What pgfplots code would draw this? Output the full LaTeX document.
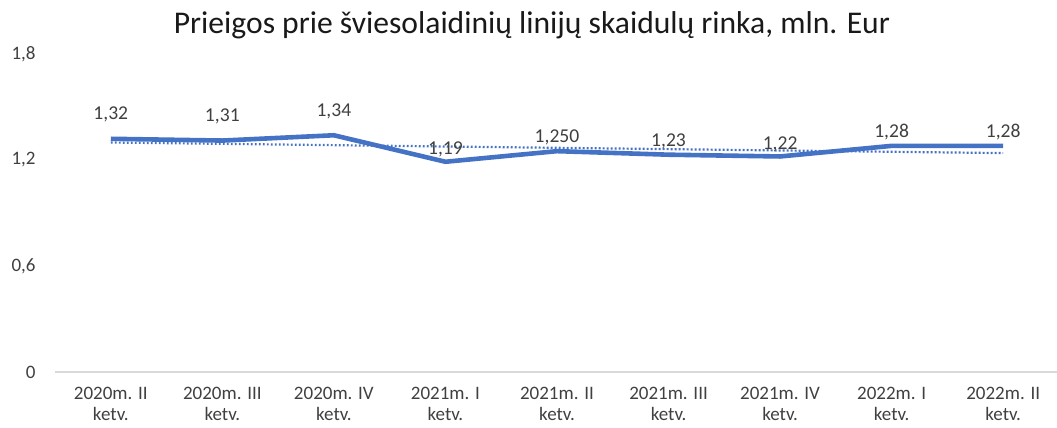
\documentclass[border=0pt]{standalone}
\usepackage{fontspec}
\setmainfont{Carlito}
\usepackage{pgfplots}
\usepackage{pgfplotstable}
\pgfplotsset{compat=1.18}
\definecolor{lineblue}{HTML}{4472C4}
\definecolor{txt}{HTML}{404040}
\definecolor{axgray}{HTML}{D9D9D9}
\pgfplotstableread{
x y lab dy
0 1.32 1,32 12
1 1.31 1,31 12
2 1.34 1,34 12
3 1.19 1,19 6
4 1.25 1,250 6.8
5 1.23 1,23 6.5
6 1.22 1,22 5.8
7 1.28 1,28 7
8 1.28 1,28 7
}\datatable
\begin{document}
\begin{tikzpicture}
\path[use as bounding box] (0,0) rectangle (528.5pt,214pt);
\node[font=\fontsize{15.8}{18}\selectfont, text=black!90] at (266pt,201.5pt) {Prieigos prie šviesolaidinių linijų skaidulų rinka, mln. Eur};
\begin{axis}[
  at={(27.5pt,28pt)}, anchor=south west,
  scale only axis, width=502pt, height=159pt,
  xmin=-0.5, xmax=8.5, ymin=0, ymax=1.8,
  xtick={0,...,8},
  xticklabels={{2020m. II\\ketv.},{2020m. III\\ketv.},{2020m. IV\\ketv.},{2021m. I\\ketv.},{2021m. II\\ketv.},{2021m. III\\ketv.},{2021m. IV\\ketv.},{2022m. I\\ketv.},{2022m. II\\ketv.}},
  ytick={0,0.6,1.2,1.8},
  major tick length=0pt,
  axis line style={draw=none},
  axis x line*=bottom, axis y line*=left,
  /pgf/number format/assume math mode=true,
  /pgf/number format/use comma,
  /pgf/number format/fixed,
  yticklabel style={font=\fontsize{9.5}{11}\selectfont, text=txt, anchor=east, inner sep=0pt, xshift=-9.5pt},
  xticklabel style={font=\fontsize{9.5}{10.5}\selectfont, text=txt, align=center, anchor=north, inner sep=0pt, yshift=-7.5pt},
  clip=false,
]
\draw[axgray, line width=0.6pt] (axis cs:-0.5,0) -- (axis cs:8.5,0);
\addplot[lineblue, line width=1.1pt, dash pattern=on 0.9pt off 1.1pt] coordinates {(0,1.299) (8,1.239)};
\addplot[lineblue, line width=2.3pt, line join=round, mark=none,
  point meta=explicit symbolic,
  nodes near coords,
  visualization depends on={\thisrow{dy} \as \mydy},
  every node near coord/.append style={font=\fontsize{9.8}{11}\selectfont, text=txt, anchor=center, inner sep=0pt, yshift=\mydy pt},
] table[x=x, y=y, meta=lab] {\datatable};
\end{axis}
\end{tikzpicture}
\end{document}
